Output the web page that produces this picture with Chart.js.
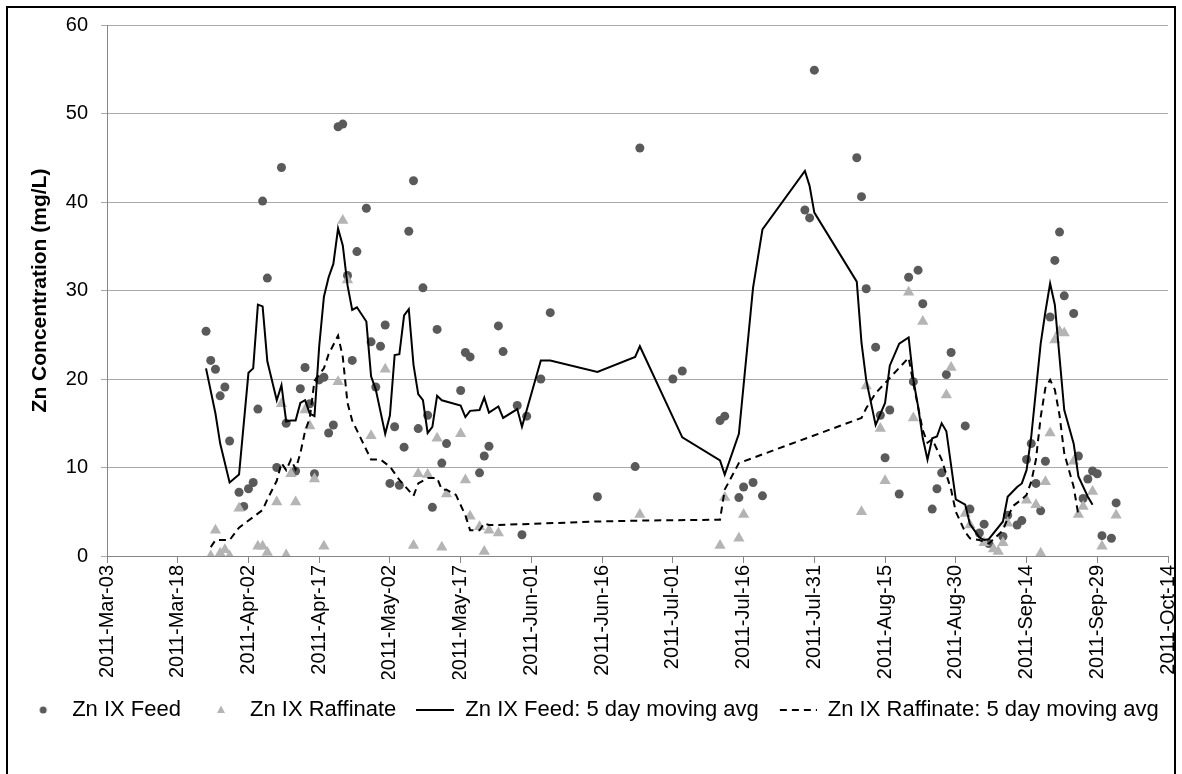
<!DOCTYPE html>
<html>
<head>
<meta charset="utf-8">
<title>Zn IX concentration</title>
<script src="https://cdn.jsdelivr.net/npm/chart.js@4.4.1/dist/chart.umd.min.js"></script>
<style>
  html, body { margin: 0; padding: 0; background: #fff; }
  canvas { display: block; }
</style>
</head>
<body>
<canvas id="znchart" width="1182" height="774"></canvas>
<script>
"use strict";

/* Zn IX feed samples (mg/L) */
var feedDates = [
    '2011-03-24', '2011-03-25', '2011-03-26', '2011-03-27', '2011-03-28', '2011-03-29', '2011-03-31',
    '2011-04-01', '2011-04-02', '2011-04-03', '2011-04-04', '2011-04-05', '2011-04-06', '2011-04-08',
    '2011-04-09', '2011-04-10', '2011-04-12', '2011-04-13', '2011-04-14', '2011-04-15', '2011-04-16',
    '2011-04-17', '2011-04-18', '2011-04-19', '2011-04-20', '2011-04-21', '2011-04-22', '2011-04-23',
    '2011-04-24', '2011-04-25', '2011-04-27', '2011-04-28', '2011-04-29', '2011-04-30', '2011-05-01',
    '2011-05-02', '2011-05-03', '2011-05-04', '2011-05-05', '2011-05-06', '2011-05-07', '2011-05-08',
    '2011-05-09', '2011-05-10', '2011-05-11', '2011-05-12', '2011-05-13', '2011-05-14', '2011-05-17',
    '2011-05-18', '2011-05-19', '2011-05-21', '2011-05-22', '2011-05-23', '2011-05-25', '2011-05-26',
    '2011-05-29', '2011-05-30', '2011-05-31', '2011-06-03', '2011-06-05', '2011-06-15', '2011-06-23',
    '2011-06-24', '2011-07-01', '2011-07-03', '2011-07-11', '2011-07-12', '2011-07-15', '2011-07-16',
    '2011-07-18', '2011-07-20', '2011-07-29', '2011-07-30', '2011-07-31', '2011-08-09', '2011-08-10',
    '2011-08-11', '2011-08-13', '2011-08-14', '2011-08-15', '2011-08-16', '2011-08-18', '2011-08-20',
    '2011-08-21', '2011-08-22', '2011-08-23', '2011-08-25', '2011-08-26', '2011-08-27', '2011-08-28',
    '2011-08-29', '2011-09-01', '2011-09-02', '2011-09-04', '2011-09-05', '2011-09-06', '2011-09-09',
    '2011-09-10', '2011-09-12', '2011-09-13', '2011-09-14', '2011-09-15', '2011-09-16', '2011-09-17',
    '2011-09-18', '2011-09-19', '2011-09-20', '2011-09-21', '2011-09-22', '2011-09-24', '2011-09-25',
    '2011-09-26', '2011-09-27', '2011-09-28', '2011-09-29', '2011-09-30', '2011-10-02', '2011-10-03'
];
var feedZn = [
    25.4, 22.1, 21.1, 18.1, 19.1, 13.0, 7.2,
    5.6, 7.6, 8.3, 16.6, 40.1, 31.4, 10.0,
    43.9, 15.0, 9.6, 18.9, 21.3, 17.2, 9.3,
    19.9, 20.2, 13.9, 14.8, 48.5, 48.8, 31.7,
    22.1, 34.4, 39.3, 24.2, 19.1, 23.7, 26.1,
    8.2, 14.6, 8.0, 12.3, 36.7, 42.4, 14.4,
    30.3, 15.9, 5.5, 25.6, 10.5, 12.7, 18.7,
    23.0, 22.5, 9.4, 11.3, 12.4, 26.0, 23.1,
    17.0, 2.4, 15.8, 20.0, 27.5, 6.7, 10.1,
    46.1, 20.0, 20.9, 15.3, 15.8, 6.6, 7.8,
    8.3, 6.8, 39.1, 38.2, 54.9, 45.0, 40.6,
    30.2, 23.6, 15.9, 11.1, 16.5, 7.0, 31.5,
    19.7, 32.3, 28.5, 5.3, 7.6, 9.4, 20.5,
    23.0, 14.7, 5.3, 2.6, 3.6, 1.4, 2.2,
    4.6, 3.5, 4.0, 10.9, 12.7, 8.2, 5.1,
    10.7, 27.0, 33.4, 36.6, 29.4, 27.4, 11.3,
    6.5, 8.7, 9.6, 9.3, 2.3, 2.0, 6.0
];

/* Zn IX raffinate samples (mg/L) */
var raffDates = [
    '2011-03-25', '2011-03-26', '2011-03-27', '2011-03-28', '2011-03-29', '2011-03-31', '2011-04-04',
    '2011-04-05', '2011-04-06', '2011-04-08', '2011-04-09', '2011-04-10', '2011-04-11', '2011-04-12',
    '2011-04-14', '2011-04-15', '2011-04-16', '2011-04-18', '2011-04-21', '2011-04-22', '2011-04-23',
    '2011-04-28', '2011-05-01', '2011-05-07', '2011-05-08', '2011-05-10', '2011-05-12', '2011-05-13',
    '2011-05-14', '2011-05-17', '2011-05-18', '2011-05-19', '2011-05-21', '2011-05-22', '2011-05-23',
    '2011-05-25', '2011-06-24', '2011-07-11', '2011-07-12', '2011-07-15', '2011-07-16', '2011-08-10',
    '2011-08-11', '2011-08-14', '2011-08-15', '2011-08-20', '2011-08-21', '2011-08-23', '2011-08-28',
    '2011-08-29', '2011-09-01', '2011-09-02', '2011-09-05', '2011-09-07', '2011-09-08', '2011-09-09',
    '2011-09-10', '2011-09-14', '2011-09-16', '2011-09-17', '2011-09-18', '2011-09-19', '2011-09-20',
    '2011-09-21', '2011-09-22', '2011-09-24', '2011-09-25', '2011-09-26', '2011-09-28', '2011-09-30',
    '2011-10-03'
];
var raffZn = [
    0.0, 2.9, 0.3, 0.7, 0.0, 5.4, 1.1,
    1.1, 0.4, 6.1, 17.2, 0.1, 9.3, 6.1,
    16.5, 14.7, 8.7, 1.1, 19.7, 37.9, 31.2,
    13.6, 21.1, 1.2, 9.3, 9.2, 13.3, 1.0,
    7.0, 13.8, 8.6, 4.5, 3.3, 0.5, 2.9,
    2.6, 4.7, 1.2, 6.6, 2.0, 4.7, 5.0,
    19.2, 14.4, 8.5, 29.8, 15.6, 26.5, 18.2,
    21.3, 4.8, 3.5, 1.5, 0.8, 0.5, 1.5,
    3.7, 6.3, 5.8, 0.3, 8.4, 13.9, 24.4,
    25.4, 25.2, 10.7, 4.7, 5.6, 7.3, 1.1,
    4.6
];

/* 5 day moving average of the feed */
var feedAvgDates = [
    '2011-03-24', '2011-03-26', '2011-03-27', '2011-03-29', '2011-03-31', '2011-04-02', '2011-04-03',
    '2011-04-04', '2011-04-05', '2011-04-06', '2011-04-08', '2011-04-09', '2011-04-10', '2011-04-11',
    '2011-04-12', '2011-04-13', '2011-04-14', '2011-04-15', '2011-04-16', '2011-04-17', '2011-04-18',
    '2011-04-19', '2011-04-20', '2011-04-21', '2011-04-22', '2011-04-23', '2011-04-24', '2011-04-25',
    '2011-04-27', '2011-04-28', '2011-04-29', '2011-05-01', '2011-05-02', '2011-05-03', '2011-05-04',
    '2011-05-05', '2011-05-06', '2011-05-07', '2011-05-08', '2011-05-09', '2011-05-10', '2011-05-11',
    '2011-05-12', '2011-05-13', '2011-05-17', '2011-05-18', '2011-05-19', '2011-05-21', '2011-05-22',
    '2011-05-23', '2011-05-25', '2011-05-26', '2011-05-29', '2011-05-30', '2011-06-03', '2011-06-05',
    '2011-06-15', '2011-06-23', '2011-06-24', '2011-07-03', '2011-07-11', '2011-07-12', '2011-07-15',
    '2011-07-18', '2011-07-20', '2011-07-29', '2011-07-30', '2011-07-31', '2011-08-09', '2011-08-10',
    '2011-08-11', '2011-08-13', '2011-08-15', '2011-08-16', '2011-08-18', '2011-08-20', '2011-08-21',
    '2011-08-22', '2011-08-23', '2011-08-24', '2011-08-25', '2011-08-26', '2011-08-27', '2011-08-28',
    '2011-08-30', '2011-09-01', '2011-09-02', '2011-09-04', '2011-09-05', '2011-09-06', '2011-09-09',
    '2011-09-10', '2011-09-12', '2011-09-13', '2011-09-14', '2011-09-15', '2011-09-17', '2011-09-18',
    '2011-09-19', '2011-09-20', '2011-09-22', '2011-09-24', '2011-09-25', '2011-09-27', '2011-09-28'
];
var feedAvgZn = [
    21.2, 16.1, 12.7, 8.3, 9.2, 20.7, 21.2,
    28.4, 28.2, 22.0, 17.6, 19.3, 15.2, 15.3,
    15.3, 17.3, 17.6, 16.1, 15.8, 23.7, 29.3,
    31.5, 33.0, 37.0, 35.1, 30.6, 27.8, 28.1,
    26.5, 20.3, 18.8, 13.8, 15.9, 22.7, 22.8,
    27.2, 27.9, 21.6, 18.3, 17.6, 13.9, 14.6,
    18.1, 17.6, 17.0, 15.7, 16.4, 16.5, 17.9,
    16.2, 16.9, 15.6, 16.6, 14.6, 22.1, 22.1,
    20.8, 22.5, 23.7, 13.4, 10.8, 9.2, 13.8,
    30.3, 36.9, 43.5, 41.8, 38.8, 31.0, 24.1,
    19.9, 14.8, 17.3, 21.5, 24.0, 24.7, 19.9,
    16.9, 13.3, 10.9, 13.3, 13.5, 15.0, 14.1,
    6.4, 5.8, 3.6, 2.1, 1.8, 1.9, 3.9,
    6.7, 7.8, 8.2, 9.7, 13.5, 24.0, 27.6,
    30.8, 28.4, 16.5, 12.7, 9.0, 6.7, 5.8
];

/* 5 day moving average of the raffinate */
var raffAvgDates = [
    '2011-03-25', '2011-03-26', '2011-03-29', '2011-03-31', '2011-04-05', '2011-04-06', '2011-04-08',
    '2011-04-09', '2011-04-10', '2011-04-11', '2011-04-12', '2011-04-13', '2011-04-14', '2011-04-15',
    '2011-04-16', '2011-04-18', '2011-04-19', '2011-04-21', '2011-04-22', '2011-04-23', '2011-04-24',
    '2011-04-26', '2011-04-28', '2011-04-30', '2011-05-02', '2011-05-04', '2011-05-07', '2011-05-08',
    '2011-05-10', '2011-05-12', '2011-05-13', '2011-05-14', '2011-05-16', '2011-05-18', '2011-05-19',
    '2011-05-21', '2011-05-22', '2011-05-23', '2011-05-25', '2011-06-15', '2011-06-24', '2011-07-11',
    '2011-07-12', '2011-07-15', '2011-08-10', '2011-08-11', '2011-08-13', '2011-08-20', '2011-08-21',
    '2011-08-23', '2011-08-24', '2011-08-25', '2011-08-27', '2011-08-29', '2011-08-30', '2011-09-01',
    '2011-09-02', '2011-09-04', '2011-09-06', '2011-09-09', '2011-09-11', '2011-09-13', '2011-09-14',
    '2011-09-15', '2011-09-16', '2011-09-17', '2011-09-18', '2011-09-19', '2011-09-20', '2011-09-21',
    '2011-09-22', '2011-09-24', '2011-09-25'
];
var raffAvgZn = [
    1.0, 1.8, 1.8, 3.2, 5.2, 6.4, 8.5,
    10.5, 9.7, 10.9, 9.8, 11.6, 14.1, 15.6,
    19.8, 21.2, 22.8, 24.9, 22.5, 17.3, 15.3,
    13.1, 10.9, 10.9, 10.1, 8.6, 6.8, 8.2,
    8.8, 8.8, 7.5, 7.5, 6.9, 4.6, 2.9,
    2.9, 3.7, 3.5, 3.5, 3.9, 4.0, 4.1,
    7.5, 10.5, 15.6, 16.7, 18.4, 22.4, 19.5,
    14.2, 12.8, 13.2, 10.9, 7.5, 5.0, 2.7,
    2.0, 1.8, 1.4, 2.9, 5.6, 6.4, 6.9,
    8.4, 10.9, 15.7, 19.0, 19.9, 18.8, 15.9,
    11.6, 7.8, 4.6
];

var axisStart = '2011-03-03';
var axisEnd = '2011-10-14';
var tickDays = 15;
var yMax = 60;
var yStep = 10;

var monthNames = ['Jan', 'Feb', 'Mar', 'Apr', 'May', 'Jun', 'Jul', 'Aug', 'Sep', 'Oct', 'Nov', 'Dec'];
var fontFamily = 'Liberation Sans, Arial, sans-serif';

// dates become whole day numbers so the x axis can stay linear
function dayNumber(iso) {
    var p = iso.split('-');
    return Date.UTC(+p[0], +p[1] - 1, +p[2]) / 86400000;
}

function dayLabel(day) {
    var d = new Date(day * 86400000);
    var dd = ('0' + d.getUTCDate()).slice(-2);
    return d.getUTCFullYear() + '-' + monthNames[d.getUTCMonth()] + '-' + dd;
}

function toPoints(dates, values) {
    return dates.map(function (iso, i) {
        return { x: dayNumber(iso), y: values[i] };
    });
}

/* small legend swatches */
function swatch(draw) {
    var c = document.createElement('canvas');
    c.width = 38;
    c.height = 14;
    draw(c.getContext('2d'));
    return c;
}

var legendIcons = [
    swatch(function (g) {
        g.fillStyle = '#5a5a5a';
        g.beginPath();
        g.arc(20, 7, 3.5, 0, Math.PI * 2);
        g.fill();
    }),
    swatch(function (g) {
        g.fillStyle = '#b4b4b4';
        g.beginPath();
        g.moveTo(20, 2.5);
        g.lineTo(24, 10);
        g.lineTo(16, 10);
        g.closePath();
        g.fill();
    }),
    swatch(function (g) {
        g.strokeStyle = '#000';
        g.lineWidth = 2;
        g.beginPath();
        g.moveTo(0, 7);
        g.lineTo(38, 7);
        g.stroke();
    }),
    swatch(function (g) {
        g.strokeStyle = '#000';
        g.lineWidth = 2;
        g.setLineDash([7, 5]);
        g.beginPath();
        g.moveTo(1, 7);
        g.lineTo(38, 7);
        g.stroke();
    })
];

var outerFrame = {
    id: 'outerFrame',
    afterDraw: function (chart) {
        var ctx = chart.ctx;
        ctx.save();
        ctx.strokeStyle = '#000';
        ctx.lineWidth = 2;
        ctx.strokeRect(7, 7, 1168, 790);
        ctx.restore();
    }
};

var ctx = document.getElementById('znchart').getContext('2d');

var znConfig = {
    type: 'scatter',
    data: {
        datasets: [{
            label: 'Zn IX Feed',
            data: toPoints(feedDates, feedZn),
            pointStyle: 'circle',
            radius: 4.5,
            backgroundColor: '#5a5a5a',
            borderWidth: 0,
            order: 4
        },
        {
            label: 'Zn IX Raffinate',
            data: toPoints(raffDates, raffZn),
            pointStyle: 'triangle',
            radius: 6.5,
            backgroundColor: '#b4b4b4',
            borderWidth: 0,
            order: 3
        },
        {
            label: 'Zn IX Feed: 5 day moving avg',
            data: toPoints(feedAvgDates, feedAvgZn),
            showLine: true,
            radius: 0,
            borderColor: '#000',
            borderWidth: 2,
            tension: 0,
            order: 2
        },
        {
            label: 'Zn IX Raffinate: 5 day moving avg',
            data: toPoints(raffAvgDates, raffAvgZn),
            showLine: true,
            radius: 0,
            borderColor: '#000',
            borderWidth: 2,
            borderDash: [7, 5],
            tension: 0,
            order: 1
        }]
    },
    options: {
        responsive: false,
        animation: false,
        layout: {
            padding: { left: 0, right: 0, top: 19, bottom: 43 }
        },
        plugins: {
            tooltip: { enabled: false },
            legend: {
                position: 'bottom',
                labels: {
                    usePointStyle: true,
                    pointStyleWidth: 38,
                    boxHeight: 14,
                    padding: 20,
                    color: '#000',
                    font: { family: fontFamily, size: 22 },
                    sort: function (a, b) {
                        return a.datasetIndex - b.datasetIndex;
                    },
                    generateLabels: function (chart) {
                        var items = Chart.defaults.plugins.legend.labels.generateLabels(chart);
                        items.forEach(function (item) {
                            item.pointStyle = legendIcons[item.datasetIndex];
                        });
                        return items;
                    }
                }
            }
        },
        scales: {
            x: {
                type: 'linear',
                min: dayNumber(axisStart),
                max: dayNumber(axisEnd),
                border: { color: '#868686', width: 1 },
                grid: {
                    drawOnChartArea: false,
                    drawTicks: true,
                    tickLength: 7,
                    color: '#868686'
                },
                ticks: {
                    stepSize: tickDays,
                    autoSkip: false,
                    minRotation: 90,
                    maxRotation: 90,
                    padding: 2,
                    color: '#000',
                    font: { family: fontFamily, size: 20 },
                    callback: function (value) {
                        return dayLabel(value);
                    }
                },
                afterFit: function (scale) {
                    scale.height = 123;
                    scale.paddingLeft = 0;
                    scale.paddingRight = 14;
                }
            },
            y: {
                min: 0,
                max: yMax,
                border: { color: '#868686', width: 1 },
                grid: {
                    color: '#a8a8a8',
                    tickLength: 6
                },
                ticks: {
                    stepSize: yStep,
                    padding: 13,
                    color: '#000',
                    font: { family: fontFamily, size: 20 }
                },
                title: {
                    display: true,
                    text: 'Zn Concentration (mg/L)',
                    color: '#000',
                    padding: { top: 28, bottom: 4 },
                    font: { family: fontFamily, size: 21, weight: 'bold' }
                },
                afterFit: function (scale) {
                    scale.width = 107;
                }
            }
        }
    },
    plugins: [outerFrame]
};

var znChart = new Chart(ctx, znConfig);
</script>
</body>
</html>
